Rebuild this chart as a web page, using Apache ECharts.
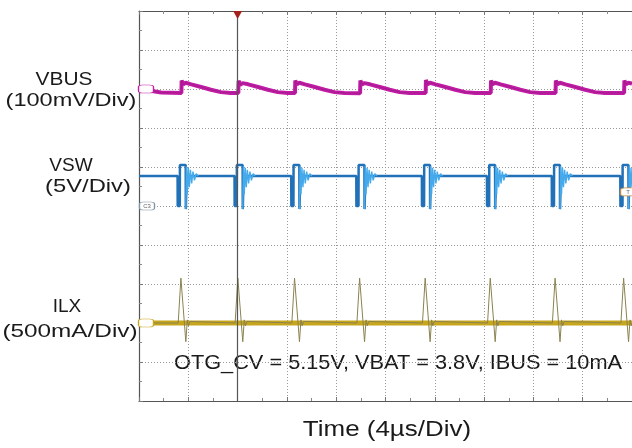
<!DOCTYPE html>
<html>
<head>
<meta charset="utf-8">
<script src="https://cdn.jsdelivr.net/npm/echarts@6/dist/echarts.min.js"></script>
<style>
html,body{margin:0;padding:0;background:#fff;}
#c{width:632px;height:448px;}
</style>
</head>
<body>
<div id="c"></div>
<script>
// Time axis: 0..40 us (4 us/div, 10 div); vertical: screen divisions 0..10 (bottom..top)
const timeMin = 0, timeMax = 40, timeStep = 4;
const divMin = 0, divMax = 10, divStep = 1;
const triggerTime = 8;

// VBUS trace (screen divisions)
const vbus = [
  [0,8.00],[0.8,7.96],[1.8,7.91],[3.44,7.90],
  [3.46,8.22],[3.59,8.12],[3.79,8.16],[4.24,8.12],[5.04,8.05],[5.84,7.98],[6.64,7.92],[7.44,7.90],[8.06,7.90],
  [8.08,8.21],[8.21,8.11],[8.41,8.15],[8.86,8.12],[9.66,8.05],[10.46,7.98],[11.26,7.92],[12.06,7.90],[12.66,7.90],
  [12.68,8.22],[12.81,8.12],[13.01,8.16],[13.46,8.12],[14.26,8.05],[15.06,7.98],[15.86,7.92],[16.66,7.90],[17.94,7.89],
  [17.96,8.22],[18.09,8.12],[18.29,8.15],[18.74,8.12],[19.54,8.05],[20.34,7.98],[21.14,7.92],[21.94,7.90],[23.26,7.90],
  [23.28,8.23],[23.41,8.12],[23.61,8.16],[24.06,8.12],[24.86,8.05],[25.66,7.98],[26.46,7.92],[27.26,7.90],[28.54,7.90],
  [28.56,8.22],[28.69,8.12],[28.89,8.16],[29.34,8.12],[30.14,8.05],[30.94,7.98],[31.74,7.92],[32.54,7.90],[33.80,7.90],
  [33.82,8.22],[33.95,8.12],[34.15,8.16],[34.60,8.12],[35.40,8.05],[36.20,7.98],[37.00,7.92],[37.80,7.90],[39.36,7.90],
  [39.38,8.22],[39.51,8.12],[39.71,8.16],[40,8.14]
];

// VSW trace: switching pulses
const vswMain = [
  [0,5.77],
  [3.13,5.77],[3.14,5.0],[3.31,5.0],[3.32,6.05],[3.79,6.05],[3.80,4.92],[3.87,5.77],
  [7.75,5.77],[7.76,5.0],[7.93,5.0],[7.94,6.05],[8.41,6.05],[8.42,4.92],[8.49,5.77],
  [12.35,5.77],[12.36,5.0],[12.53,5.0],[12.54,6.05],[13.01,6.05],[13.02,4.92],[13.09,5.77],
  [17.63,5.77],[17.64,5.0],[17.81,5.0],[17.82,6.05],[18.29,6.05],[18.30,4.92],[18.37,5.77],
  [22.95,5.77],[22.96,5.0],[23.13,5.0],[23.14,6.05],[23.61,6.05],[23.62,4.92],[23.69,5.77],
  [28.23,5.77],[28.24,5.0],[28.41,5.0],[28.42,6.05],[28.89,6.05],[28.90,4.92],[28.97,5.77],
  [33.49,5.77],[33.50,5.0],[33.67,5.0],[33.68,6.05],[34.15,6.05],[34.16,4.92],[34.23,5.77],
  [39.05,5.77],[39.06,5.0],[39.23,5.0],[39.24,6.05],[39.71,6.05],[39.72,4.92],[39.79,5.77],
  [40,5.77]
];

// VSW ringing after each switching edge
const vswRing = [
  [3.80,4.92],[3.85,6.02],[3.92,5.30],[4.00,5.98],[4.08,5.48],[4.17,5.93],[4.27,5.58],[4.38,5.88],[4.50,5.66],[4.64,5.83],[4.80,5.77],null,
  [8.42,4.92],[8.47,6.02],[8.54,5.30],[8.62,5.98],[8.70,5.48],[8.79,5.93],[8.89,5.58],[9.00,5.88],[9.12,5.66],[9.26,5.83],[9.42,5.77],null,
  [13.02,4.92],[13.07,6.02],[13.14,5.30],[13.22,5.98],[13.30,5.48],[13.39,5.93],[13.49,5.58],[13.60,5.88],[13.72,5.66],[13.86,5.83],[14.02,5.77],null,
  [18.30,4.92],[18.35,6.02],[18.42,5.30],[18.50,5.98],[18.58,5.48],[18.67,5.93],[18.77,5.58],[18.88,5.88],[19.00,5.66],[19.14,5.83],[19.30,5.77],null,
  [23.62,4.92],[23.67,6.02],[23.74,5.30],[23.82,5.98],[23.90,5.48],[23.99,5.93],[24.09,5.58],[24.20,5.88],[24.32,5.66],[24.46,5.83],[24.62,5.77],null,
  [28.90,4.92],[28.95,6.02],[29.02,5.30],[29.10,5.98],[29.18,5.48],[29.27,5.93],[29.37,5.58],[29.48,5.88],[29.60,5.66],[29.74,5.83],[29.90,5.77],null,
  [34.16,4.92],[34.21,6.02],[34.28,5.30],[34.36,5.98],[34.44,5.48],[34.53,5.93],[34.63,5.58],[34.74,5.88],[34.86,5.66],[35.00,5.83],[35.16,5.77],null,
  [39.72,4.92],[39.77,6.02],[39.84,5.30],[39.92,5.98],[40.00,5.48]
];

// ILX trace: inductor current spikes
const ilx = [
  [0,2.0],
  [3.18,2.0],[3.40,3.15],[3.80,1.52],[3.92,2.08],[4.02,1.93],[4.14,2.04],[4.28,2.0],
  [7.80,2.0],[8.02,3.15],[8.42,1.52],[8.54,2.08],[8.64,1.93],[8.76,2.04],[8.90,2.0],
  [12.40,2.0],[12.62,3.15],[13.02,1.52],[13.14,2.08],[13.24,1.93],[13.36,2.04],[13.50,2.0],
  [17.68,2.0],[17.90,3.15],[18.30,1.52],[18.42,2.08],[18.52,1.93],[18.64,2.04],[18.78,2.0],
  [23.00,2.0],[23.22,3.15],[23.62,1.52],[23.74,2.08],[23.84,1.93],[23.96,2.04],[24.10,2.0],
  [28.28,2.0],[28.50,3.15],[28.90,1.52],[29.02,2.08],[29.12,1.93],[29.24,2.04],[29.38,2.0],
  [33.54,2.0],[33.76,3.15],[34.16,1.52],[34.28,2.08],[34.38,1.93],[34.50,2.04],[34.64,2.0],
  [39.10,2.0],[39.32,3.15],[39.72,1.52],[39.84,2.08],[39.94,1.93],[40,2.0]
];
const ilxBand = [[0,2.0],[40,2.0]];

// channel ground / reference markers (screen divisions)
const vbusRef = 8.0, vswRef = 5.0, ilxRef = 2.0, trigLevel = 5.36;

// label texts
const labels = ['VBUS','(100mV/Div)','VSW','(5V/Div)','ILX','(500mA/Div)'];
const noteText = 'OTG_CV = 5.15V, VBAT = 3.8V, IBUS = 10mA';
const timeTitle = 'Time (4\u00b5s/Div)';

const chart = echarts.init(document.getElementById('c'), null, {renderer:'canvas'});
const FONT = '"Liberation Sans", Arial, Helvetica, sans-serif';
const gridDots = {show:true, lineStyle:{color:'#9a9a9a', width:1, type:[1,2]}};
const tag = (coord, color, text, off) => ({
  coord: coord, symbol:'roundRect', symbolSize:[15,8], symbolOffset: off,
  itemStyle:{color:'#fff', borderColor:color, borderWidth:1},
  label:{show:!!text, formatter:text||'', fontSize:6, color:'#666', fontFamily:FONT}
});
const txt = (t, x, y, size, sx, align) => ({
  type:'text', x:x, y:y, scaleX:sx, silent:true,
  style:{text:t, font:size+'px '+FONT, fill:'#1a1a1a', textAlign:align||'center', textVerticalAlign:'middle', verticalAlign:'middle'}
});

chart.setOption({
  animation:false,
  backgroundColor:'#ffffff',
  grid:{left:139, top:11, width:500, height:390, show:false},
  xAxis:[{
    type:'value', min:timeMin, max:timeMax, interval:timeStep, position:'bottom',
    axisLine:{show:true, lineStyle:{color:'#555', width:1.2}},
    axisTick:{show:true, inside:true, length:4, lineStyle:{color:'#777'}},
    minorTick:{show:true, splitNumber:2, length:3, lineStyle:{color:'#888'}},
    axisLabel:{show:false}, splitLine:gridDots
  },{
    type:'value', min:timeMin, max:timeMax, interval:timeStep, position:'top',
    axisLine:{show:true, lineStyle:{color:'#555', width:1.2}},
    axisTick:{show:true, inside:true, length:4, lineStyle:{color:'#777'}},
    minorTick:{show:true, splitNumber:2, length:3, lineStyle:{color:'#888'}},
    axisLabel:{show:false}, splitLine:{show:false}
  }],
  yAxis:[{
    type:'value', min:divMin, max:divMax, interval:divStep, position:'left',
    axisLine:{show:true, lineStyle:{color:'#555', width:1.2}},
    axisTick:{show:true, inside:true, length:4, lineStyle:{color:'#777'}},
    minorTick:{show:true, splitNumber:2, length:3, lineStyle:{color:'#888'}},
    axisLabel:{show:false}, splitLine:gridDots
  }],
  graphic:[
    txt(labels[0], 64, 80, 19, 1.1),
    txt(labels[1], 71, 101, 19, 1.24),
    txt(labels[2], 71, 166, 19, 1.0),
    txt(labels[3], 88, 187, 19, 1.25),
    txt(labels[4], 67, 307, 19, 1.0),
    txt(labels[5], 70, 332, 19, 1.28),
    txt(noteText, 174, 363, 21, 1.035, 'left'),
    txt(timeTitle, 387, 430, 22, 1.18)
  ],
  series:[
    {type:'line', name:'ILX band', data:ilxBand, showSymbol:false, silent:true, z:2,
     lineStyle:{color:'#c8a61c', width:5}},
    {type:'line', name:'ILX', data:ilx, showSymbol:false, silent:true, z:3,
     lineStyle:{color:'#8a8250', width:1},
     markPoint:{silent:true, data:[tag([0,ilxRef],'#c8a61c','',[7,0])]}},
    {type:'line', name:'VSW', data:vswMain, showSymbol:false, silent:true, z:3,
     lineStyle:{color:'#2171b8', width:2.5},
     markPoint:{silent:true, data:[tag([0,vswRef],'#7f95a8','C3',[8,0]), tag([40,trigLevel],'#c08a40','T',[-4,0])]}},
    {type:'line', name:'VSW ring', data:vswRing, showSymbol:false, silent:true, connectNulls:false, z:4,
     lineStyle:{color:'#45aaec', width:1.4}},
    {type:'line', name:'VBUS', data:vbus, showSymbol:false, silent:true, z:3,
     lineStyle:{color:'#c21ca6', width:4},
     markPoint:{silent:true, data:[tag([0,vbusRef],'#c21ca6','',[7,0])]}},
    {type:'line', name:'VBUS noise', data:vbus, showSymbol:false, silent:true, z:4,
     lineStyle:{color:'#5a2050', width:0.7, opacity:0.4},
     markLine:{silent:true, symbol:'none', label:{show:false},
       lineStyle:{color:'#555', width:1.2, type:'solid'}, data:[{xAxis:triggerTime}]},
     markPoint:{silent:true, data:[{coord:[triggerTime,divMax], symbol:'triangle', symbolRotate:180, symbolSize:[9,8], symbolOffset:[0,4], itemStyle:{color:'#a3221c'}, label:{show:false}}]}}
  ]
});
</script>
</body>
</html>
